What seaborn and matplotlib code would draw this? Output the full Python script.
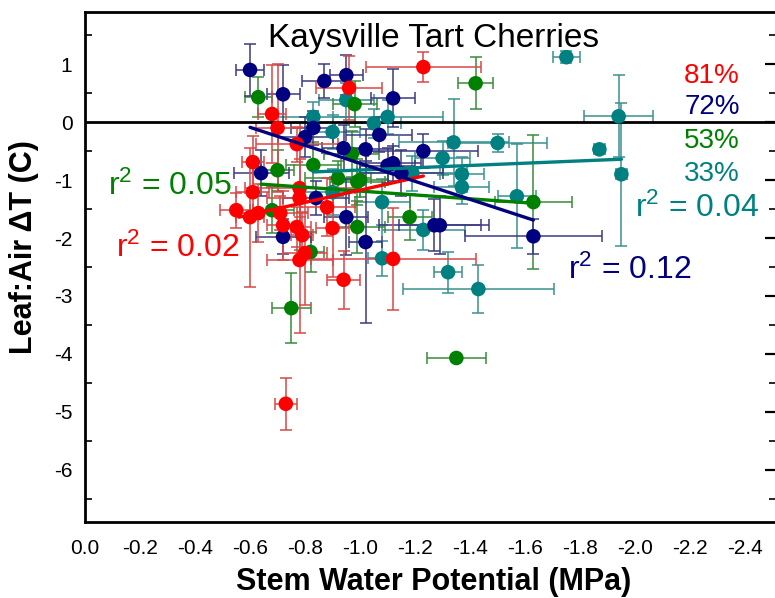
import numpy as np
import pandas as pd
import matplotlib
matplotlib.use("Agg")
import matplotlib.pyplot as plt
import seaborn as sns
from matplotlib.ticker import MultipleLocator

# ---------------- data ----------------
series_names = ["81%", "72%", "53%", "33%"]
series_colors = ["#FF0000", "#000080", "#008000", "#008080"]
bar_colors = ["#D84848", "#3A3A80", "#3A8A3A", "#3A9090"]

red_x = [-1.23, -0.96, -0.68, -0.70, -0.77, -0.61, -0.61, -0.55, -0.60, -0.63, -0.71, -0.72,
         -0.77, -0.78, -0.78, -0.79, -0.80, -0.78, -0.88, -0.90, -0.94, -1.12, -0.73]
red_y = [0.95, 0.59, 0.14, -0.10, -0.38, -0.69, -1.21, -1.52, -1.64, -1.57, -1.57, -1.78,
         -1.81, -1.14, -1.31, -1.95, -2.26, -2.38, -1.47, -1.83, -2.72, -2.36, -4.86]
red_xerr = [0.21, 0.12, 0.05, 0.08, 0.15, 0.04, 0.06, 0.06, 0.05, 0.08, 0.10, 0.06,
            0.05, 0.20, 0.12, 0.04, 0.08, 0.12, 0.10, 0.06, 0.06, 0.30, 0.04]
red_yerr = [0.26, 0.55, 0.85, 1.10, 0.30, 0.45, 0.45, 0.30, 1.20, 0.50, 0.30, 0.60,
            0.35, 0.50, 0.90, 0.40, 0.90, 1.26, 0.50, 0.85, 0.50, 0.88, 0.45]

navy_x = [-0.60, -0.72, -0.87, -0.95, -1.12, -0.83, -0.80, -1.07, -0.94, -1.02, -1.23, -1.12,
          -1.15, -0.64, -0.84, -0.95, -0.72, -1.02, -1.27, -1.29, -1.63, -1.10]
navy_y = [0.90, 0.48, 0.71, 0.81, 0.41, -0.10, -0.26, -0.22, -0.45, -0.47, -0.50, -0.71,
          -0.88, -0.88, -1.31, -1.64, -1.98, -2.07, -1.78, -1.78, -1.97, -0.75]
navy_xerr = [0.05, 0.06, 0.08, 0.06, 0.08, 0.08, 0.10, 0.12, 0.08, 0.10, 0.20, 0.10,
             0.15, 0.10, 0.12, 0.08, 0.10, 0.06, 0.20, 0.15, 0.25, 0.10]
navy_yerr = [0.45, 0.50, 0.30, 0.35, 0.50, 0.30, 0.35, 0.30, 0.40, 0.35, 0.30, 0.30,
             0.40, 0.40, 0.30, 0.65, 0.30, 1.40, 0.45, 0.50, 0.30, 0.30]

green_x = [-0.63, -0.98, -1.42, -0.83, -0.70, -0.92, -0.99, -0.68, -0.99, -1.18, -0.97, -0.82,
           -1.00, -0.75, -1.63, -1.35]
green_y = [0.43, 0.31, 0.67, -0.74, -0.83, -0.97, -1.03, -1.52, -1.81, -1.64, -0.55, -2.24,
           -1.00, -3.21, -1.38, -4.07]
green_xerr = [0.05, 0.08, 0.065, 0.10, 0.06, 0.12, 0.10, 0.08, 0.10, 0.08, 0.10, 0.05,
              0.10, 0.07, 0.14, 0.107]
green_yerr = [0.35, 0.40, 0.45, 0.40, 0.35, 0.30, 0.40, 0.40, 0.45, 0.40, 0.40, 0.35,
              0.30, 0.60, 1.15, 0.0]

teal_x = [-0.83, -0.95, -1.10, -1.05, -0.90, -1.19, -1.08, -1.23, -0.90, -1.75, -1.94, -1.87,
          -1.95, -1.34, -1.50, -1.30, -1.37, -1.37, -1.57, -1.32, -1.43, -1.08]
teal_y = [0.09, 0.38, 0.09, -0.02, -0.17, -0.88, -1.38, -1.86, -1.21, 1.12, 0.10, -0.47,
          -0.90, -0.35, -0.36, -0.62, -0.90, -1.12, -1.28, -2.59, -2.88, -2.35]
teal_xerr = [0.15, 0.10, 0.20, 0.10, 0.10, 0.20, 0.10, 0.15, 0.10, 0.05, 0.125, 0.02,
             0.02, 0.20, 0.18, 0.10, 0.08, 0.10, 0.07, 0.05, 0.275, 0.05]
teal_yerr = [0.25, 0.30, 0.30, 0.25, 0.30, 0.30, 0.40, 0.35, 0.40, 0.10, 0.71, 0.05,
             1.23, 0.75, 0.15, 0.30, 0.30, 0.30, 0.90, 0.35, 0.42, 0.30]

# fitted regression line end points
fit_x = [[-0.56, -1.23], [-0.60, -1.63], [-0.64, -1.63], [-0.83, -1.95]]
fit_y = [[-1.64, -0.93], [-0.09, -1.69], [-1.07, -1.40], [-0.86, -0.64]]

r2_labels = ["r$^\\mathrm{2}$ = 0.02", "r$^\\mathrm{2}$ = 0.12",
             "r$^\\mathrm{2}$ = 0.05", "r$^\\mathrm{2}$ = 0.04"]

title = "Kaysville Tart Cherries"
x_label = "Stem Water Potential (MPa)"
y_label = "Leaf:Air \u0394T (C)"
x_ticks = [0.0, -0.2, -0.4, -0.6, -0.8, -1.0, -1.2, -1.4, -1.6, -1.8, -2.0, -2.2, -2.4]
y_ticks = [1, 0, -1, -2, -3, -4, -5, -6]

# ---------------- build table ----------------
xs = [red_x, navy_x, green_x, teal_x]
ys = [red_y, navy_y, green_y, teal_y]
xes = [red_xerr, navy_xerr, green_xerr, teal_xerr]
yes = [red_yerr, navy_yerr, green_yerr, teal_yerr]
frames = []
for name, x, y, xe, ye in zip(series_names, xs, ys, xes, yes):
    frames.append(pd.DataFrame({"swp": x, "dT": y, "xerr": xe, "yerr": ye, "group": name}))
df = pd.concat(frames, ignore_index=True)

sns.set_theme(style="white")
plt.rcParams["font.family"] = ["Liberation Sans", "DejaVu Sans"]
plt.rcParams["mathtext.fontset"] = "custom"
plt.rcParams["mathtext.rm"] = "Liberation Sans"
plt.rcParams["mathtext.it"] = "Liberation Sans"
plt.rcParams["text.color"] = "black"
plt.rcParams["axes.labelcolor"] = "black"

fig = plt.figure(figsize=(7.75, 5.98), dpi=100)
ax = fig.add_axes([85 / 775, 1 - 522 / 598, 691 / 775, 510 / 598])

# error bars
draw_order = [3, 2, 1, 0]
for i in draw_order:
    sub = df[df["group"] == series_names[i]]
    ax.errorbar(sub["swp"], sub["dT"], xerr=sub["xerr"], yerr=sub["yerr"], fmt="none",
                ecolor=bar_colors[i], elinewidth=1.1, capsize=4, capthick=1.1, zorder=2)

# points
for i in draw_order:
    sub = df[df["group"] == series_names[i]]
    sns.scatterplot(data=sub, x="swp", y="dT", color=series_colors[i], s=110,
                    edgecolor="none", ax=ax, zorder=4, legend=False)

# regression lines
for i in [3, 2, 0, 1]:
    line_df = pd.DataFrame({"x": fit_x[i], "y": fit_y[i]})
    sns.lineplot(data=line_df, x="x", y="y", color=series_colors[i], lw=2.4,
                 ax=ax, zorder=5, sort=False)

ax.axhline(0, color="black", lw=2, zorder=3)

ax.set_xlim(0, -2.512)
ax.set_ylim(-6.9, 1.9)
ax.set_xticks(x_ticks)
ax.set_xticklabels([f"{t:.1f}" for t in x_ticks])
ax.set_yticks(y_ticks)
ax.set_yticklabels([str(t) for t in y_ticks])
ax.yaxis.set_minor_locator(MultipleLocator(0.5))
ax.tick_params(axis="both", which="major", direction="in", length=8, width=1.6,
               labelsize=15, colors="black")
ax.tick_params(axis="x", which="major", pad=12)
ax.tick_params(axis="y", which="major", pad=9)
ax.tick_params(axis="y", which="minor", direction="in", length=5, width=1.4, left=True)
ax.tick_params(axis="y", which="both", right=True)
ax.tick_params(axis="x", which="both", top=False)
for side in ["left", "bottom", "top", "right"]:
    ax.spines[side].set_color("black")
    ax.spines[side].set_linewidth(2)

ax.set_xlabel(x_label, fontsize=22, fontweight="bold", color="black")
ax.set_ylabel(y_label, fontsize=22, fontweight="bold", color="black")
ax.xaxis.set_label_coords((434 - 85) / 691, 1 - (567 - 12) / 510)
ax.yaxis.set_label_coords((39 - 85) / 691, 1 - (247 - 12) / 510)

ax.text((434 - 85) / 691, 1 - (38 - 12) / 510, title, transform=ax.transAxes,
        ha="center", va="center", fontsize=24, color="black", zorder=6)

# legend-like percentages
pct_pos = [(712, 76), (712, 107), (712, 141), (712, 174)]
for i, (px, py) in enumerate(pct_pos):
    ax.text((px - 85) / 691, 1 - (py - 12) / 510, series_names[i], transform=ax.transAxes,
            ha="center", va="center", fontsize=20, color=series_colors[i], zorder=6)

r2_pos = [(178, 248), (630, 270), (170, 186), (697, 208)]
for i, (px, py) in enumerate(r2_pos):
    ax.text((px - 85) / 691, 1 - (py - 12) / 510, r2_labels[i], transform=ax.transAxes,
            ha="center", va="center", fontsize=23, color=series_colors[i], zorder=6)

fig.savefig("out.png", dpi=100)
